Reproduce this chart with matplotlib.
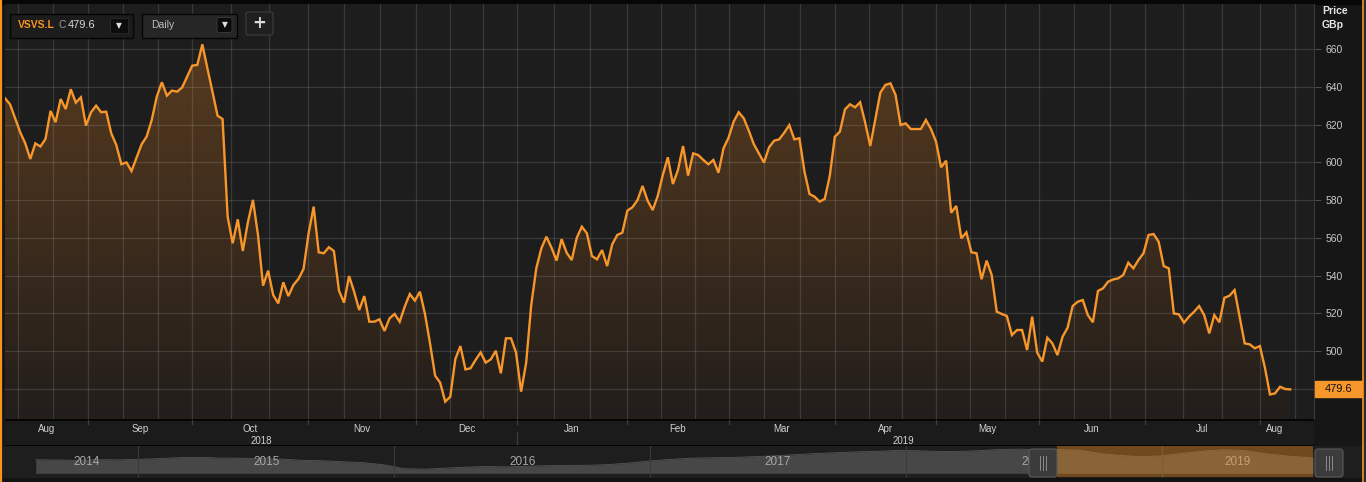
import numpy as np
import matplotlib.pyplot as plt
from matplotlib.patches import Rectangle, FancyBboxPatch, Polygon

plt.rcParams['font.family'] = ['Liberation Sans', 'DejaVu Sans']

# ---------------- data ----------------
# VSVS.L daily close, GBp, Aug 2018 -> Aug 2019 (one value per trading day)
close = [
    634.0, 630.8, 623.4, 616.0, 610.1, 601.8, 610.1, 608.4, 612.4, 627.3,
    621.3, 633.6, 628.3, 638.8, 631.7, 634.5, 619.5, 626.6, 630.1, 626.6,
    626.9, 615.4, 609.2, 599.0, 600.0, 595.4, 602.5, 609.6, 613.7, 622.5,
    634.9, 642.5, 635.4, 638.1, 637.5, 639.7, 645.5, 651.3, 651.7, 662.6,
    649.9, 637.5, 624.8, 623.0, 571.2, 557.1, 569.8, 553.0, 568.2, 580.1,
    561.5, 534.6, 542.6, 529.7,
    525.2, 536.4, 529.1, 535.0, 538.2, 543.5, 562.4, 576.5, 552.3, 551.8,
    555.0, 553.0, 532.0, 525.6, 539.7, 531.4, 521.7, 529.1, 515.5, 515.5,
    516.8, 510.6, 517.3, 519.6, 515.5, 523.5, 530.2, 526.7, 531.4, 519.6,
    504.0, 486.9, 483.2, 473.1, 475.7, 495.7, 502.6, 490.2, 490.8, 495.2,
    499.2, 493.8, 495.5, 500.1, 488.1, 506.7, 506.7, 499.1, 478.4, 493.8,
    524.4, 543.8, 554.4,
    560.6, 554.8, 547.9, 559.3, 552.1, 548.2, 560.0, 565.9, 562.4, 550.3,
    548.6, 553.5, 545.0, 556.5, 561.5, 562.7, 574.4, 576.2, 580.0, 587.5,
    579.7, 574.7, 582.2, 593.3, 602.7, 588.5, 596.0, 608.7, 593.0, 604.8,
    603.9, 601.3, 599.0, 601.3, 594.5, 607.5, 613.1, 621.6, 626.6, 623.4,
    616.8, 609.6, 604.8, 599.9, 608.0, 611.5, 612.2, 615.7, 619.8, 612.2,
    612.8, 595.1, 583.2, 581.8,
    579.2, 580.6, 592.8, 613.6, 616.3, 628.1, 630.8, 629.2, 631.9, 621.1,
    608.7, 622.8, 637.0, 641.1, 641.9, 635.8, 619.8, 620.7, 617.7, 617.7,
    617.7, 622.5, 617.7, 611.0, 597.4, 600.9, 573.3, 576.9, 559.7, 562.9,
    552.3, 551.8, 538.0, 547.9, 540.3, 520.8, 519.6, 518.5, 508.4, 511.1,
    511.1, 500.5, 518.2, 499.1, 494.3, 507.0, 504.0, 497.8, 507.5, 512.3,
    523.8, 526.1, 527.0,
    519.0, 515.2, 531.8, 533.2, 536.7, 537.9, 538.5, 540.3, 546.8, 543.8,
    548.2, 551.8, 561.5, 562.0, 557.9, 545.0, 543.8, 519.9, 519.4, 515.0,
    518.2, 520.8, 523.8, 519.0, 509.3, 519.0, 515.2, 528.2, 529.3, 532.3,
    518.2, 504.0, 503.5, 501.4, 502.6, 491.1, 476.9, 477.5, 481.0, 479.8,
    479.6,
]
month_labels = ['Aug', 'Sep', 'Oct', 'Nov', 'Dec', 'Jan', 'Feb',
                'Mar', 'Apr', 'May', 'Jun', 'Jul', 'Aug']
# trading-day index where Sep 2018 ... Aug 2019 begin
month_first = [16.5, 37.0, 59.9, 81.2, 101.2, 122.9, 143.1,
               164.0, 184.0, 204.3, 225.3, 248.0]
year_labels = ['2018', '2019']
price_ticks = [480, 500, 520, 540, 560, 580, 600, 620, 640, 660]
last_price = '479.6'

# navigator (long history, decimal years / GBp)
nav_time = [2014.60, 2014.68, 2014.76, 2014.84, 2014.92, 2015.00, 2015.08,
            2015.16, 2015.24, 2015.32, 2015.40, 2015.48, 2015.56, 2015.64,
            2015.72, 2015.80, 2015.88, 2015.96, 2016.04, 2016.12, 2016.20,
            2016.28, 2016.36, 2016.44, 2016.52, 2016.60, 2016.68, 2016.76,
            2016.84, 2016.92, 2017.00, 2017.08, 2017.16, 2017.24, 2017.32,
            2017.40, 2017.48, 2017.56, 2017.64, 2017.72, 2017.80, 2017.88,
            2017.96, 2018.04, 2018.12, 2018.20, 2018.28, 2018.36, 2018.44,
            2018.52, 2018.60, 2018.68, 2018.76, 2018.84, 2018.92, 2019.00,
            2019.08, 2019.16, 2019.24, 2019.32, 2019.40, 2019.48, 2019.59]
nav_close = [450, 446, 440, 452, 448, 458, 470, 488, 494, 480, 478, 470,
             462, 440, 432, 415, 398, 360, 290, 282, 300, 318, 330, 322,
             335, 345, 350, 352, 365, 392, 430, 458, 478, 486, 492, 505,
             518, 540, 560, 575, 590, 600, 615, 612, 600, 598, 612, 632,
             640, 628, 632, 620, 560, 525, 505, 520, 565, 605, 630, 615,
             560, 520, 480]
nav_years = ['2014', '2015', '2016', '2017', '2018', '2019']

# ---------------- layout helpers ----------------
W, H = 1366, 482


def fbox(l, t, r, b):
    return [l / W, 1 - b / H, (r - l) / W, (b - t) / H]


fig = plt.figure(figsize=(W / 100, H / 100), dpi=100)
fig.patch.set_facecolor('#161616')

# background pieces
bg = fig.add_axes([0, 0, 1, 1], zorder=0)
bg.set_xlim(0, W)
bg.set_ylim(H, 0)
bg.axis('off')
bg.add_patch(Rectangle((0, 0), W, 4, color='#070707'))
bg.add_patch(Rectangle((0, 478), W, 4, color='#121212'))
bg.add_patch(Rectangle((1363, 0), 3, H, color='#2a2a2a'))
bg.plot([1, 1], [0, H], color='#f7941d', lw=1.6)
bg.plot([1363, 1363], [0, H], color='#f7941d', lw=1.2)

# ---------------- main price chart ----------------
n = len(close)
x = np.arange(n)
xmax = 258.7
ylo, yhi = 463.9, 684.0

ax = fig.add_axes(fbox(5, 4, 1314, 419), zorder=1)
ax.set_facecolor('#1d1d1d')

top = np.array([0x5c, 0x3d, 0x1f]) / 255
bot = np.array([0x22, 0x1e, 0x1b]) / 255
t = np.linspace(0, 1, 256)[:, None]
grad = (top * (1 - t) + bot * t).reshape(256, 1, 3)
im = ax.imshow(grad, extent=[0, xmax, ylo, yhi], origin='upper',
               aspect='auto', zorder=1)
poly = Polygon(np.column_stack([np.r_[0, x, x[-1]], np.r_[ylo, close, ylo]]),
               closed=True, facecolor='none', edgecolor='none')
ax.add_patch(poly)
im.set_clip_path(poly)

# grid: 3 vertical lines per month
grid_x = [month_first[0] - 13.9, month_first[0] - 6.95]
for a, b in zip(month_first[:-1], month_first[1:]):
    grid_x += [a, a + (b - a) / 3, a + 2 * (b - a) / 3]
grid_x += [month_first[-1], month_first[-1] + 7.0]
for gx in grid_x:
    ax.axvline(gx, color='white', alpha=0.12, lw=0.9, zorder=2)
for gy in price_ticks:
    ax.axhline(gy, color='white', alpha=0.12, lw=0.9, zorder=2)

ax.plot(x, close, color='#f7962b', lw=1.7, zorder=3, solid_joinstyle='miter')

ax.set_xlim(0, xmax)
ax.set_ylim(ylo, yhi)
ax.set_xticks([])
ax.yaxis.tick_right()
ax.set_yticks(price_ticks)
# the lowest label sits under the last-price box
ax.set_yticklabels(['' if v == 480 else str(v) for v in price_ticks])
ax.tick_params(axis='y', labelcolor='#c8c8c8', labelsize=7.5, length=5,
               width=0.8, color='#4a4a4a', pad=3)
for s in ['top', 'left', 'bottom']:
    ax.spines[s].set_visible(False)
ax.spines['right'].set_color('#3a3a3a')

# ---------------- date axis band ----------------
ax2 = fig.add_axes(fbox(5, 419, 1314, 446), zorder=1)
ax2.set_facecolor('#1b1b1b')
ax2.set_xlim(0, xmax)
ax2.set_ylim(27, 0)
ax2.axis('off')
ax2.add_patch(Rectangle((0, 0), xmax, 27, color='#1b1b1b', zorder=0))
ax2.axhline(0.5, color='#050505', lw=1.5)
ax2.axhline(26.5, color='#050505', lw=1.5)
edges = [0] + month_first + [n - 1]
for i, name in enumerate(month_labels):
    ax2.text((edges[i] + edges[i + 1]) / 2, 10, name, color='#d0d0d0',
             fontsize=7, ha='center', va='center')
for m in month_first:
    ax2.plot([m, m], [1, 5], color='#3c3c3c', lw=0.9)
jan = month_first[month_labels.index('Jan') - 1]
ax2.plot([jan, jan], [13, 25], color='#3c3c3c', lw=0.9)
ax2.text((0 + jan) / 2, 22, year_labels[0], color='#d0d0d0', fontsize=7,
         ha='center', va='center')
ax2.text((jan + n - 1) / 2, 22, year_labels[1], color='#d0d0d0', fontsize=7,
         ha='center', va='center')

# ---------------- navigator ----------------
nav = fig.add_axes(fbox(3, 446, 1362, 478), zorder=1)
nav.set_facecolor('#1e1e1e')
nav.set_xlim(2014.472, 2019.781)
nav.set_ylim(124, 696)
nav.axis('off')
nav.add_patch(Rectangle((2014.3, 100), 6, 700, color='#1e1e1e', zorder=0))
nav.fill_between(nav_time, nav_close, 208, color='#474747', lw=0, zorder=1)
nav.plot(nav_time, nav_close, color='#555555', lw=0.6, zorder=1)
for yr in range(2015, 2020):
    nav.axvline(yr, color='#3a3a3a', lw=0.8, zorder=1.5)
spans = [(nav_time[0], 2015)] + [(y, y + 1) for y in range(2015, 2019)] + \
        [(2019, nav_time[-1])]
for (a, b), name in zip(spans, nav_years):
    nav.text((a + b) / 2, 410, name, color='#a8a8a8', fontsize=8.5,
             ha='center', va='center', zorder=2)
nav.add_patch(Rectangle((2018.59, 150), 1.0, 560, color='#f7941d',
                        alpha=0.38, lw=0, zorder=3))

# ---------------- overlay: controls, labels ----------------
ov = fig.add_axes([0, 0, 1, 1], zorder=5)
ov.set_xlim(0, W)
ov.set_ylim(H, 0)
ov.axis('off')
ov.patch.set_alpha(0)

ov.text(1322, 11, 'Price', color='#e6e6e6', fontsize=7.5, fontweight='bold',
        va='center')
ov.text(1322, 25, 'GBp', color='#e6e6e6', fontsize=7.5, fontweight='bold',
        va='center')
ov.add_patch(Rectangle((1315, 381), 47, 16, color='#f7962b'))
ov.text(1338.5, 389.5, last_price, color='#111111', fontsize=8,
        ha='center', va='center')

# symbol box
ov.add_patch(Rectangle((9.5, 13.5), 123, 24, fc='#1c1c1c', ec='#050505', lw=1))
ov.text(18, 25.5, 'VSVS.L', color='#f7941d', fontsize=7.5, fontweight='bold',
        va='center')
ov.text(58.5, 25.5, 'C', color='#9a9a9a', fontsize=7.5, va='center')
ov.text(67.5, 25.5, last_price, color='#d6d6d6', fontsize=8, va='center')
ov.add_patch(Rectangle((110, 18), 18, 15, fc='#0c0c0c', ec='#2a2a2a', lw=0.6))
ov.text(119, 25.5, '\u25bc', color='#e0e0e0', fontsize=5.5, ha='center',
        va='center', family='DejaVu Sans')
# interval box
ov.add_patch(Rectangle((141.5, 13.5), 95, 24, fc='#262626', ec='#050505', lw=1))
ov.text(151, 24.5, 'Daily', color='#bdbdbd', fontsize=7.5, va='center')
ov.add_patch(FancyBboxPatch((217, 17.5), 15, 15,
                            boxstyle='round,pad=0,rounding_size=2',
                            fc='#0c0c0c', ec='#3a3a3a', lw=0.6))
ov.text(224.5, 25, '\u25bc', color='#e0e0e0', fontsize=5.5, ha='center',
        va='center', family='DejaVu Sans')
# plus button
ov.add_patch(FancyBboxPatch((246, 12), 27, 23,
                            boxstyle='round,pad=0,rounding_size=2',
                            fc='#1f1f1f', ec='#3c3c3c', lw=0.8))
ov.text(259.5, 23, '+', color='#d8d8d8', fontsize=12, fontweight='bold',
        ha='center', va='center', family='DejaVu Sans')

# navigator handles
for hx in (1029, 1315):
    ov.add_patch(FancyBboxPatch((hx, 449), 28, 28,
                                boxstyle='round,pad=0,rounding_size=3',
                                fc='#3b3b3b', ec='#5a5a5a', lw=0.8))
    for k in (-3, 0, 3):
        ov.plot([hx + 14 + k, hx + 14 + k], [456, 470], color='#8c8c8c',
                lw=0.7)

fig.savefig('out.png', dpi=100, facecolor=fig.get_facecolor())
